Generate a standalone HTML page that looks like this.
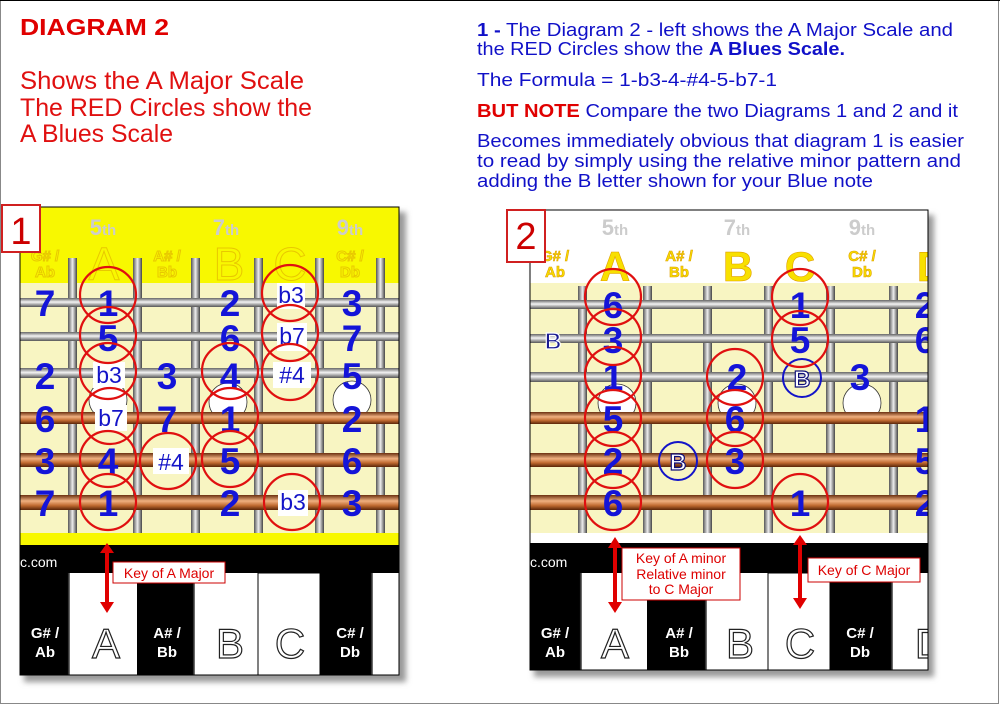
<!DOCTYPE html>
<html><head><meta charset="utf-8"><style>
html,body{margin:0;padding:0;background:#fff;}
svg{display:block;}
text{font-family:"Liberation Sans",sans-serif;}
</style></head><body>
<svg width="1000" height="704" viewBox="0 0 1000 704" xmlns="http://www.w3.org/2000/svg">
<defs>
<linearGradient id="sil" x1="0" y1="0" x2="0" y2="1"><stop offset="0" stop-color="#666"/><stop offset=".45" stop-color="#f4f4f4"/><stop offset="1" stop-color="#555"/></linearGradient>
<linearGradient id="cop" x1="0" y1="0" x2="0" y2="1"><stop offset="0" stop-color="#6b3010"/><stop offset=".4" stop-color="#f0b080"/><stop offset=".7" stop-color="#c06a30"/><stop offset="1" stop-color="#5a2508"/></linearGradient>
<linearGradient id="fret" x1="0" y1="0" x2="1" y2="0"><stop offset="0" stop-color="#555"/><stop offset=".5" stop-color="#eee"/><stop offset="1" stop-color="#444"/></linearGradient>
<linearGradient id="kl" x1="0" y1="0" x2="1" y2="0"><stop offset="0" stop-color="#000"/><stop offset=".8" stop-color="#000"/><stop offset="1" stop-color="#888"/></linearGradient>
<clipPath id="c1"><rect x="20" y="207" width="379" height="468"/></clipPath>
<clipPath id="c2"><rect x="530" y="210" width="398" height="460"/></clipPath>
<filter id="sh" x="-5%" y="-5%" width="115%" height="115%"><feGaussianBlur stdDeviation="3"/></filter>
</defs>
<rect x="0.5" y="0.5" width="998" height="703" fill="#fff" stroke="#888"/>
<line x1="0" y1="0.5" x2="1000" y2="0.5" stroke="#000"/>

<text x="20" y="35" font-size="23" font-weight="bold" fill="#e00000" textLength="149" lengthAdjust="spacingAndGlyphs">DIAGRAM 2</text>
<g font-size="25" fill="#e01010">
<text x="20" y="89" textLength="284" lengthAdjust="spacingAndGlyphs">Shows the A Major Scale</text>
<text x="20" y="116" textLength="292" lengthAdjust="spacingAndGlyphs">The RED Circles show the</text>
<text x="20" y="142" textLength="153" lengthAdjust="spacingAndGlyphs">A Blues Scale</text>
</g>
<g font-size="18" fill="#1010c8">
<text x="477" y="36" textLength="476" lengthAdjust="spacingAndGlyphs"><tspan font-weight="bold">1 -</tspan> The Diagram 2 - left shows the A Major Scale and</text>
<text x="477" y="55" textLength="368" lengthAdjust="spacingAndGlyphs">the RED Circles show the <tspan font-weight="bold">A Blues Scale.</tspan></text>
<text x="477" y="86" textLength="300" lengthAdjust="spacingAndGlyphs">The Formula = 1-b3-4-#4-5-b7-1</text>
<text x="477" y="117" textLength="481" lengthAdjust="spacingAndGlyphs"><tspan font-weight="bold" fill="#e00000">BUT NOTE</tspan> Compare the two Diagrams 1 and 2 and it</text>
<text x="477" y="147" textLength="487" lengthAdjust="spacingAndGlyphs">Becomes immediately obvious that diagram 1 is easier</text>
<text x="477" y="167" textLength="484" lengthAdjust="spacingAndGlyphs">to read by simply using the relative minor pattern and</text>
<text x="477" y="187" textLength="396" lengthAdjust="spacingAndGlyphs">adding the B letter shown for your Blue note</text>
</g>

<!-- DIAGRAM 1 -->
<rect x="24" y="212" width="382" height="470" fill="#999" filter="url(#sh)"/>
<g clip-path="url(#c1)">
<rect x="20" y="207" width="379" height="468" fill="#000"/>
<rect x="20" y="207" width="379" height="76" fill="#f8f800"/>
<rect x="20" y="283" width="379" height="250" fill="#f8f5c2"/>
<rect x="20" y="533" width="379" height="12" fill="#f8f800"/>
<g fill="url(#fret)">
<rect x="68" y="258" width="9" height="275"/><rect x="133" y="258" width="9" height="275"/><rect x="191" y="258" width="9" height="275"/><rect x="254" y="258" width="9" height="275"/><rect x="315" y="258" width="9" height="275"/><rect x="376" y="258" width="9" height="275"/>
</g>
<g fill="#fff" stroke="#333" stroke-width="0.8"><circle cx="108" cy="400" r="19"/><circle cx="228" cy="402" r="19"/><circle cx="352" cy="400" r="19"/></g>
<rect x="20" y="298" width="379" height="9" fill="url(#sil)"/>
<rect x="20" y="332" width="379" height="9" fill="url(#sil)"/>
<rect x="20" y="368" width="379" height="10" fill="url(#sil)"/>
<rect x="20" y="412" width="379" height="12" fill="url(#cop)"/>
<rect x="20" y="453" width="379" height="14" fill="url(#cop)"/>
<rect x="20" y="495" width="379" height="15" fill="url(#cop)"/>
<g font-size="22" font-weight="bold" fill="#ccc" text-anchor="middle">
<text x="103" y="235">5<tspan font-size="15">th</tspan></text><text x="226" y="235">7<tspan font-size="15">th</tspan></text><text x="350" y="235">9<tspan font-size="15">th</tspan></text>
</g>
<g fill="none" stroke="#e8c800" stroke-width="1" text-anchor="middle" font-weight="bold">
<text x="45" y="261" font-size="15">G# /</text><text x="45" y="277" font-size="15">Ab</text>
<text x="167" y="261" font-size="15">A# /</text><text x="167" y="277" font-size="15">Bb</text>
<text x="350" y="261" font-size="15">C# /</text><text x="350" y="277" font-size="15">Db</text>
<text x="104" y="280" font-size="46" font-weight="normal">A</text><text x="229" y="280" font-size="46" font-weight="normal">B</text><text x="290" y="280" font-size="46" font-weight="normal">C</text>
</g>
<g font-size="37" font-weight="bold" fill="#1414d8" text-anchor="middle">
<text x="45" y="316">7</text><text x="108" y="316">1</text><text x="230" y="316">2</text><text x="352" y="316">3</text>
<text x="108" y="351">5</text><text x="230" y="351">6</text><text x="352" y="351">7</text>
<text x="45" y="389">2</text><text x="167" y="389">3</text><text x="230" y="389">4</text><text x="352" y="389">5</text>
<text x="45" y="432">6</text><text x="167" y="432">7</text><text x="230" y="432">1</text><text x="352" y="432">2</text>
<text x="45" y="474">3</text><text x="108" y="474">4</text><text x="230" y="474">5</text><text x="352" y="474">6</text>
<text x="45" y="516">7</text><text x="108" y="516">1</text><text x="230" y="516">2</text><text x="352" y="516">3</text>
</g>
<g fill="#fff"><rect x="277" y="283" width="28" height="26"/><rect x="277" y="323" width="30" height="28"/><rect x="273" y="362" width="38" height="26"/><rect x="93" y="362" width="32" height="26"/><rect x="95" y="405" width="32" height="26"/><rect x="153" y="448" width="36" height="26"/><rect x="278" y="490" width="30" height="26"/></g>
<g font-size="23" fill="#1414c8" text-anchor="middle">
<text x="291" y="303">b3</text><text x="292" y="344">b7</text><text x="292" y="383">#4</text><text x="109" y="383">b3</text><text x="111" y="426">b7</text><text x="171" y="470">#4</text><text x="293" y="510">b3</text>
</g>
<g fill="none" stroke="#e01010" stroke-width="2.2">
<circle cx="108" cy="295" r="28"/><circle cx="108" cy="335" r="28"/><circle cx="108" cy="371" r="28"/><circle cx="110" cy="416" r="28"/><circle cx="108" cy="459" r="28"/><circle cx="108" cy="502" r="28"/>
<circle cx="230" cy="371" r="28"/><circle cx="230" cy="416" r="28"/><circle cx="230" cy="459" r="28"/>
<circle cx="290" cy="293" r="28"/><circle cx="290" cy="333" r="28"/><circle cx="290" cy="372" r="28"/><circle cx="292" cy="502" r="28"/>
<circle cx="168" cy="461" r="28"/>
</g>
<rect x="70" y="573" width="67" height="102" fill="#fff"/>
<rect x="195" y="573" width="63" height="102" fill="#fff"/>
<rect x="258" y="573" width="62" height="102" fill="#fff" stroke="#000"/>
<rect x="373" y="573" width="26" height="102" fill="#fff"/>
<rect x="58" y="573" width="12" height="102" fill="url(#kl)"/>
<rect x="183" y="573" width="12" height="102" fill="url(#kl)"/>
<rect x="361" y="573" width="12" height="102" fill="url(#kl)"/>
<text x="20" y="567" font-size="14" fill="#fff">c.com</text>
<g font-size="15" font-weight="bold" fill="#fff" text-anchor="middle">
<text x="45" y="638">G# /</text><text x="45" y="657">Ab</text><text x="167" y="638">A# /</text><text x="167" y="657">Bb</text><text x="350" y="638">C# /</text><text x="350" y="657">Db</text>
</g>
<g font-size="42" fill="#fff" stroke="#222" stroke-width="1.2" text-anchor="middle">
<text x="106" y="658">A</text><text x="230" y="658">B</text><text x="290" y="658">C</text>
</g>
</g>
<rect x="20" y="207" width="379" height="468" fill="none" stroke="#000" stroke-width="1"/>
<line x1="107" y1="553" x2="107" y2="602" stroke="#e00000" stroke-width="4"/>
<polygon points="100,553 107,543 114,553" fill="#e00000"/><polygon points="100,602 107,613 114,602" fill="#e00000"/>
<rect x="113" y="562" width="112" height="21" fill="#fff" stroke="#c00" stroke-width="1"/>
<text x="169" y="578" font-size="14" fill="#d00" text-anchor="middle">Key of A Major</text>
<rect x="2" y="205" width="38" height="47" fill="#fff" stroke="#d02020" stroke-width="2"/>
<text x="21" y="244" font-size="38" fill="#c00" text-anchor="middle">1</text>

<!-- DIAGRAM 2 -->
<rect x="534" y="215" width="400" height="462" fill="#999" filter="url(#sh)"/>
<g clip-path="url(#c2)">
<rect x="530" y="210" width="398" height="460" fill="#000"/>
<rect x="530" y="210" width="398" height="73" fill="#fff"/>
<rect x="530" y="283" width="398" height="250" fill="#f8f5c2"/>
<rect x="530" y="533" width="398" height="10" fill="#fff"/>
<g fill="url(#fret)">
<rect x="578" y="286" width="9" height="247"/><rect x="643" y="286" width="9" height="247"/><rect x="703" y="286" width="9" height="247"/><rect x="764" y="286" width="9" height="247"/><rect x="826" y="286" width="9" height="247"/><rect x="889" y="286" width="9" height="247"/>
</g>
<g fill="#fff" stroke="#333" stroke-width="0.8"><circle cx="617" cy="403" r="19"/><circle cx="737" cy="403" r="19"/><circle cx="862" cy="403" r="19"/></g>
<rect x="530" y="300" width="398" height="9" fill="url(#sil)"/>
<rect x="530" y="334" width="398" height="9" fill="url(#sil)"/>
<rect x="530" y="372" width="398" height="10" fill="url(#sil)"/>
<rect x="530" y="412" width="398" height="12" fill="url(#cop)"/>
<rect x="530" y="453" width="398" height="14" fill="url(#cop)"/>
<rect x="530" y="495" width="398" height="15" fill="url(#cop)"/>
<g font-size="22" font-weight="bold" fill="#ccc" text-anchor="middle">
<text x="615" y="235">5<tspan font-size="15">th</tspan></text><text x="737" y="235">7<tspan font-size="15">th</tspan></text><text x="862" y="235">9<tspan font-size="15">th</tspan></text>
</g>
<g fill="#f8e000" stroke="#e0a000" stroke-width="0.6" text-anchor="middle" font-weight="bold">
<text x="555" y="261" font-size="15">G# /</text><text x="555" y="277" font-size="15">Ab</text>
<text x="679" y="261" font-size="15">A# /</text><text x="679" y="277" font-size="15">Bb</text>
<text x="862" y="261" font-size="15">C# /</text><text x="862" y="277" font-size="15">Db</text>
<text x="615" y="281" font-size="42">A</text><text x="738" y="281" font-size="42">B</text><text x="800" y="281" font-size="42">C</text><text x="932" y="281" font-size="42">D</text>
</g>
<g font-size="37" font-weight="bold" fill="#1414d8" text-anchor="middle">
<text x="613" y="318">6</text><text x="800" y="318">1</text><text x="925" y="318">2</text>
<text x="613" y="353">3</text><text x="800" y="353">5</text><text x="925" y="353">6</text>
<text x="613" y="390">1</text><text x="737" y="390">2</text><text x="860" y="390">3</text>
<text x="613" y="432">5</text><text x="735" y="432">6</text><text x="925" y="432">1</text>
<text x="613" y="474">2</text><text x="735" y="474">3</text><text x="925" y="474">5</text>
<text x="613" y="516">6</text><text x="800" y="516">1</text><text x="925" y="516">2</text>
</g>
<g font-size="23" font-weight="bold" stroke-width="1.2" text-anchor="middle">
<text x="553" y="349" fill="#1a1a90" stroke="#fff">B</text>
<text x="802" y="387" fill="#fff" stroke="#10107a">B</text><text x="678" y="470" fill="#fff" stroke="#10107a">B</text>
</g>
<g fill="none" stroke="#1414c8" stroke-width="2"><circle cx="802" cy="378" r="19"/><circle cx="678" cy="461" r="19"/></g>
<g fill="none" stroke="#e01010" stroke-width="2.2">
<circle cx="613" cy="297" r="28"/><circle cx="613" cy="337" r="28"/><circle cx="613" cy="375" r="28"/><circle cx="613" cy="418" r="28"/><circle cx="613" cy="460" r="28"/><circle cx="613" cy="502" r="28"/>
<circle cx="735" cy="377" r="28"/><circle cx="735" cy="418" r="28"/><circle cx="735" cy="460" r="28"/>
<circle cx="800" cy="297" r="28"/><circle cx="800" cy="339" r="28"/><circle cx="800" cy="502" r="28"/>
</g>
<rect x="582" y="573" width="65" height="97" fill="#fff"/>
<rect x="707" y="573" width="61" height="97" fill="#fff"/>
<rect x="768" y="573" width="62" height="97" fill="#fff" stroke="#000"/>
<rect x="893" y="573" width="35" height="97" fill="#fff"/>
<rect x="570" y="573" width="12" height="97" fill="url(#kl)"/>
<rect x="695" y="573" width="12" height="97" fill="url(#kl)"/>
<rect x="881" y="573" width="12" height="97" fill="url(#kl)"/>
<text x="530" y="567" font-size="14" fill="#fff">c.com</text>
<g font-size="15" font-weight="bold" fill="#fff" text-anchor="middle">
<text x="555" y="638">G# /</text><text x="555" y="657">Ab</text><text x="679" y="638">A# /</text><text x="679" y="657">Bb</text><text x="860" y="638">C# /</text><text x="860" y="657">Db</text>
</g>
<g font-size="42" fill="#fff" stroke="#222" stroke-width="1.2" text-anchor="middle">
<text x="615" y="658">A</text><text x="740" y="658">B</text><text x="800" y="658">C</text><text x="930" y="658">D</text>
</g>
</g>
<rect x="530" y="210" width="398" height="460" fill="none" stroke="#000" stroke-width="1"/>
<line x1="615" y1="548" x2="615" y2="602" stroke="#e00000" stroke-width="4"/>
<polygon points="608,548 615,537 622,548" fill="#e00000"/><polygon points="608,602 615,613 622,602" fill="#e00000"/>
<rect x="622" y="548" width="118" height="52" fill="#fff" stroke="#c00" stroke-width="1"/>
<g font-size="14" fill="#d00" text-anchor="middle"><text x="681" y="563">Key of A minor</text><text x="681" y="579">Relative minor</text><text x="681" y="594">to C Major</text></g>
<line x1="800" y1="545" x2="800" y2="598" stroke="#e00000" stroke-width="4"/>
<polygon points="793,545 800,535 807,545" fill="#e00000"/><polygon points="793,598 800,609 807,598" fill="#e00000"/>
<rect x="808" y="558" width="112" height="24" fill="#fff" stroke="#c00" stroke-width="1"/>
<text x="864" y="575" font-size="14" fill="#d00" text-anchor="middle">Key of C Major</text>
<rect x="507" y="210" width="38" height="52" fill="#fff" stroke="#d02020" stroke-width="2"/>
<text x="526" y="249" font-size="38" fill="#c00" text-anchor="middle">2</text>
</svg>
</body></html>
